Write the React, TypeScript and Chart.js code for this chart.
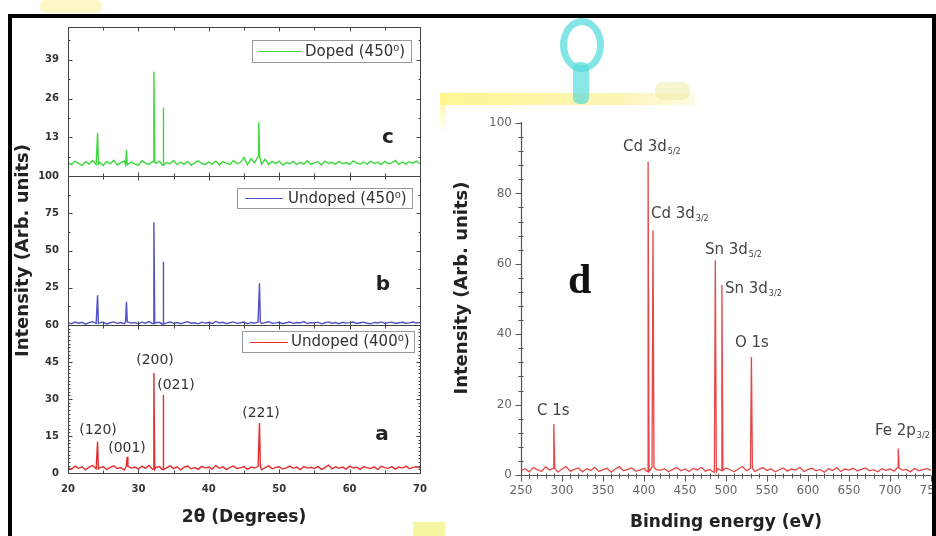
import React, { useEffect, useRef } from "react";
import { Chart, registerables } from "chart.js";
Chart.register(...registerables);

// ---------------- data ----------------
const twoThetaStart = 20;
const twoThetaStep = 0.5;

const cNoise = [4.5,3.8,5.0,4.2,3.6,4.8,4.0,5.2,3.9,4.6, 3.5,4.9,4.1,5.3,3.7,4.4,5.0,3.8,4.7,4.0, 3.6,5.1,4.3,3.9,4.8,4.2,5.0,3.7,4.5,4.1, 5.2,3.8,4.6,4.0,4.9,3.6,4.4,5.1,4.2,3.9, 4.7,4.0,5.0,3.7,4.8,4.3,3.9,5.2,4.1,4.6, 6.2,3.8,5.8,4.4,6.5,4.0,5.6,3.9,4.8,4.2, 5.0,3.7,4.5,4.1,4.9,3.8,4.6,4.0,5.1,3.9, 4.4,4.8,3.7,5.0,4.2,4.6,3.9,4.9,4.1,4.5, 3.8,5.1,4.3,4.0,4.7,3.9,5.0,4.2,4.6,3.8, 4.9,4.1,4.4,5.2,3.9,4.7,4.0,4.8,4.3,5.0, 4.2];
const bNoise = [1.5,0.8,2.0,1.2,1.8,0.6,1.6,2.2,1.0,1.4, 1.9,0.7,1.5,2.1,1.1,1.7,0.9,2.0,1.3,1.6, 0.8,1.9,1.2,2.3,1.0,1.5,1.8,0.7,1.4,2.0, 1.1,1.7,0.9,1.6,2.2,1.2,1.5,0.8,1.9,1.3, 1.7,1.0,2.4,1.4,1.8,0.9,1.6,2.1,1.1,1.5, 2.0,0.8,1.7,1.3,1.9,1.0,1.6,2.2,1.2,1.4, 1.8,0.9,1.5,2.0,1.1,1.7,1.3,2.3,1.0,1.6, 1.4,1.9,0.8,1.5,2.1,1.2,1.7,0.9,1.8,1.3, 1.6,2.0,1.0,1.5,1.9,1.2,0.8,1.7,1.4,2.1, 1.1,1.6,1.9,1.0,1.5,1.8,1.2,1.4,2.0,1.3, 1.6];
const aNoise = [2.2,1.5,2.8,1.9,2.5,1.3,2.4,3.0,1.7,2.1, 2.6,1.4,2.3,2.9,1.8,2.2,1.2,2.7,2.0,2.4, 1.6,2.8,1.9,3.1,1.5,2.3,2.6,1.4,2.1,2.9, 1.8,2.5,1.3,2.4,2.8,1.7,2.2,1.5,2.7,2.0, 2.4,1.6,3.0,1.9,2.5,1.4,2.3,2.8,1.8,2.1, 2.6,1.5,2.4,2.0,2.7,1.3,2.2,2.9,1.7,2.3, 2.5,1.6,2.1,2.8,1.9,2.4,1.4,2.6,2.0,2.3, 1.8,2.7,1.5,2.2,3.2,1.7,2.5,1.9,2.4,1.6, 2.8,2.0,2.3,1.5,2.6,2.1,1.8,2.5,1.4,2.7, 2.2,1.9,2.6,1.6,2.4,2.0,2.8,1.7,2.3,2.5, 2.1];

const cPeakPos = [24.2, 28.3, 32.2, 33.5, 47.1];
const cPeakInt = [14.4, 8.7, 35, 23, 18];
const bPeakPos = [24.2, 28.3, 32.2, 33.5, 47.2];
const bPeakInt = [20, 15.6, 69, 42.5, 28];
const aPeakPos = [24.2, 28.4, 32.2, 33.5, 47.2];
const aPeakInt = [12.7, 6.6, 40.5, 31.6, 20.3];
const aPeakLabels = ["(120)", "(001)", "(200)", "(021)", "(221)"];

const legendC = "Doped (450\u2070)";
const legendB = "Undoped (450\u2070)";
const legendA = "Undoped (400\u2070)";

const xTicksLeft = [20, 30, 40, 50, 60, 70];
const xMinorLeft = [25, 35, 45, 55, 65];
const cTicks = [13, 26, 39];
const cMinor = [6.5, 19.5, 32.5, 45.5];
const bTicks = [25, 50, 75, 100];
const bMinor = [12.5, 37.5, 62.5, 87.5];
const aTicks = [0, 15, 30, 45, 60];

const beStart = 250;
const beStep = 5;
const dNoise = [1.2,1.8,0.9,2.1,1.5,1.0,2.3,1.4,1.9,0.8, 1.7,2.4,1.1,1.6,2.0,0.9,1.8,1.3,2.2,1.0, 1.5,1.9,0.8,1.7,2.3,1.2,1.6,2.0,1.1,1.4, 1.9,1.0,2.2,1.5,1.3,1.8,0.9,1.6,2.1,1.2, 1.7,1.0,1.9,1.4,2.2,1.1,1.6,0.8,1.8,1.3, 2.0,1.5,0.9,1.7,2.4,1.2,1.9,1.0,1.6,2.1, 1.3,1.8,0.9,1.5,2.0,1.1,1.7,1.4,2.2,1.0, 1.6,1.9,1.2,1.5,0.8,1.8,1.3,2.1,1.0,1.7, 1.4,1.9,1.1,1.6,2.0,1.2,1.5,0.9,1.8,1.3, 1.7,1.1,2.0,1.4,1.6,0.9,1.9,1.2,1.5,1.8, 1.3];
const dPeakPos = [290, 405, 411, 487, 495, 531, 710];
const dPeakInt = [14.5, 89, 69.5, 61, 54, 33.5, 7.5];
const dPeakNames = ["C 1s", "Cd 3d", "Cd 3d", "Sn 3d", "Sn 3d", "O 1s", "Fe 2p"];
const dPeakSubs = ["", "5/2", "3/2", "5/2", "3/2", "", "3/2"];
const dXTicks = [250, 300, 350, 400, 450, 500, 550, 600, 650, 700, 750];
const dYTicks = [0, 20, 40, 60, 80, 100];

// ---------------- helpers ----------------
const FONT = '"DejaVu Sans", sans-serif';

function range(a: number, b: number, s: number) {
  const out: number[] = [];
  for (let v = a; v <= b + 1e-9; v += s) out.push(Math.round(v * 100) / 100);
  return out;
}
const aMinor = range(0, 60, 1.5).filter((v) => !aTicks.includes(v));
const dXMinor = range(250, 750, 10).filter((v) => v % 50 !== 0);
const dYMinor = range(0, 100, 4).filter((v) => v % 20 !== 0);

function buildSeries(start: number, step: number, noise: number[], pos: number[], h: number[], hw: number) {
  const pts = noise.map((v, i) => ({ x: start + i * step, y: v }));
  pos.forEach((p, k) => {
    const i = Math.max(0, Math.min(noise.length - 1, Math.round((p - start) / step)));
    const base = noise[i];
    pts.push({ x: p - hw, y: base }, { x: p, y: h[k] }, { x: p + hw, y: base });
  });
  pts.sort((a, b) => a.x - b.x);
  return pts;
}

function seg(ctx: CanvasRenderingContext2D, x1: number, y1: number, x2: number, y2: number) {
  ctx.beginPath();
  ctx.moveTo(x1, y1);
  ctx.lineTo(x2, y2);
  ctx.stroke();
}

function drawBox(chart: any, yMaj: number[], yMin: number[]) {
  const { ctx, chartArea: ca, scales } = chart;
  const x = scales.x, y = scales.y;
  ctx.save();
  ctx.strokeStyle = "#444";
  ctx.lineWidth = 1;
  const L = Math.round(ca.left) + 0.5, R = Math.round(ca.right) + 0.5;
  const T = Math.round(ca.top) + 0.5, B = Math.round(ca.bottom) + 0.5;
  ctx.strokeRect(L, T, R - L, B - T);
  xTicksLeft.forEach((v) => {
    const px = Math.round(x.getPixelForValue(v)) + 0.5;
    seg(ctx, px, T, px, T + 4);
    seg(ctx, px, B, px, B - 4);
  });
  xMinorLeft.forEach((v) => {
    const px = Math.round(x.getPixelForValue(v)) + 0.5;
    seg(ctx, px, T, px, T + 3);
    seg(ctx, px, B, px, B - 3);
  });
  yMaj.forEach((v) => {
    const py = Math.round(y.getPixelForValue(v)) + 0.5;
    seg(ctx, L, py, L + 4, py);
    seg(ctx, R, py, R - 4, py);
  });
  yMin.forEach((v) => {
    const py = Math.round(y.getPixelForValue(v)) + 0.5;
    seg(ctx, L, py, L + 2, py);
    seg(ctx, R, py, R - 2, py);
  });
  ctx.restore();
}

function drawLegend(ctx: CanvasRenderingContext2D, bx: number, by: number, bw: number, bh: number, l1: number, l2: number, tx: number, color: string, text: string) {
  ctx.save();
  ctx.fillStyle = "#fff";
  ctx.fillRect(bx, by, bw, bh);
  ctx.strokeStyle = "#999";
  ctx.lineWidth = 1;
  ctx.strokeRect(bx + 0.5, by + 0.5, bw, bh);
  ctx.strokeStyle = color;
  const cy = Math.round(by + bh / 2) + 0.5;
  seg(ctx, l1, cy, l2, cy);
  ctx.fillStyle = "#333";
  ctx.font = `15px ${FONT}`;
  ctx.textBaseline = "middle";
  ctx.textAlign = "left";
  ctx.fillText(text, tx, by + bh / 2 + 1);
  ctx.restore();
}

function drawText(ctx: CanvasRenderingContext2D, text: string, x: number, y: number, font: string, color: string, align: CanvasTextAlign = "center", baseline: CanvasTextBaseline = "middle") {
  ctx.save();
  ctx.font = font;
  ctx.fillStyle = color;
  ctx.textAlign = align;
  ctx.textBaseline = baseline;
  ctx.fillText(text, x, y);
  ctx.restore();
}

const tickFontLeft = { family: FONT, size: 10, weight: "bold" as const };

function leftConfig(p: any) {
  return {
    type: "line",
    data: {
      datasets: [
        { data: p.points, borderColor: p.color, borderWidth: 1.4, pointRadius: 0, tension: 0, fill: false },
      ],
    },
    options: {
      animation: false,
      responsive: false,
      devicePixelRatio: 1,
      events: [],
      layout: { padding: { top: p.padTop, bottom: p.padBottom, left: 0, right: 20 } },
      plugins: { legend: { display: false }, tooltip: { enabled: false }, title: { display: false } },
      scales: {
        x: {
          type: "linear",
          min: 20,
          max: 70,
          display: p.showX,
          afterBuildTicks: (s: any) => {
            s.ticks = xTicksLeft.map((v) => ({ value: v }));
          },
          afterFit: (s: any) => {
            s.height = p.showX ? 63 : 0;
            s.paddingLeft = 0;
            s.paddingRight = 0;
          },
          grid: { display: false, drawTicks: false },
          border: { display: false },
          ticks: { font: tickFontLeft, color: "#333", padding: 10, maxRotation: 0, autoSkip: false },
          title: {
            display: true,
            text: "2\u03b8 (Degrees)",
            font: { family: FONT, size: 17, weight: "bold" },
            color: "#222",
            padding: { top: 0, bottom: 8 },
          },
        },
        y: {
          type: "linear",
          min: p.yMin,
          max: p.yMax,
          afterBuildTicks: (s: any) => {
            s.ticks = p.yTicks.map((v: number) => ({ value: v }));
          },
          afterFit: (s: any) => {
            s.width = 68;
            s.paddingTop = 0;
            s.paddingBottom = 0;
          },
          grid: { display: false, drawTicks: false },
          border: { display: false },
          ticks: { font: tickFontLeft, color: "#333", padding: 9, autoSkip: false },
          title: {
            display: !!p.yTitle,
            text: p.yTitle || "",
            font: { family: FONT, size: 18, weight: "bold" },
            color: "#222",
            padding: { top: 13, bottom: 0 },
          },
        },
      },
    },
    plugins: [{ id: "deco", afterDraw: p.draw }],
  } as any;
}

export default function App() {
  const cRef = useRef<HTMLCanvasElement>(null);
  const bRef = useRef<HTMLCanvasElement>(null);
  const aRef = useRef<HTMLCanvasElement>(null);
  const dRef = useRef<HTMLCanvasElement>(null);

  useEffect(() => {
    const charts: Chart[] = [];
    const green = "rgb(60,215,60)";
    const blue = "rgb(80,80,200)";
    const red = "rgb(225,45,45)";
    const dRed = "rgb(230,70,70)";

    charts.push(
      new Chart(
        cRef.current!,
        leftConfig({
          points: buildSeries(twoThetaStart, twoThetaStep, cNoise, cPeakPos, cPeakInt, 0.12),
          color: green,
          yMin: 0,
          yMax: 50,
          yTicks: cTicks,
          padTop: 27,
          padBottom: 360,
          showX: false,
          draw: (chart: any) => {
            drawBox(chart, cTicks, cMinor);
            const ctx = chart.ctx;
            drawLegend(ctx, 252, 40, 159, 22, 258, 302, 305, green, legendC);
            drawText(ctx, "c", 388, 143, `bold 20px ${FONT}`, "#222", "center", "alphabetic");
          },
        })
      )
    );

    charts.push(
      new Chart(
        bRef.current!,
        leftConfig({
          points: buildSeries(twoThetaStart, twoThetaStep, bNoise, bPeakPos, bPeakInt, 0.12),
          color: blue,
          yMin: 0,
          yMax: 100,
          yTicks: bTicks,
          padTop: 176,
          padBottom: 211,
          showX: false,
          yTitle: "Intensity (Arb. units)",
          draw: (chart: any) => {
            drawBox(chart, bTicks, bMinor);
            const ctx = chart.ctx;
            drawLegend(ctx, 237, 188, 175, 20, 245, 283, 288, blue, legendB);
            drawText(ctx, "b", 383, 290, `bold 20px ${FONT}`, "#222", "center", "alphabetic");
          },
        })
      )
    );

    const aLabelPos = [
      [98, 430],
      [127, 448],
      [155, 360],
      [176, 385],
      [261, 413],
    ];
    charts.push(
      new Chart(
        aRef.current!,
        leftConfig({
          points: buildSeries(twoThetaStart, twoThetaStep, aNoise, aPeakPos, aPeakInt, 0.12),
          color: red,
          yMin: 0,
          yMax: 60,
          yTicks: aTicks,
          padTop: 325,
          padBottom: 0,
          showX: true,
          draw: (chart: any) => {
            drawBox(chart, aTicks, aMinor);
            const ctx = chart.ctx;
            drawLegend(ctx, 242, 331, 172, 21, 250, 288, 291, red, legendA);
            drawText(ctx, "a", 382, 440, `bold 20px ${FONT}`, "#222", "center", "alphabetic");
            aPeakLabels.forEach((t, i) => {
              drawText(ctx, t, aLabelPos[i][0], aLabelPos[i][1], `14px ${FONT}`, "#333");
            });
          },
        })
      )
    );

    // d panel (canvas offset 440)
    const OX = 440;
    const dLabelPos = [
      [537, 411],
      [623, 147],
      [651, 214],
      [705, 250],
      [725, 289],
      [735, 343],
      [875, 431],
    ];
    charts.push(
      new Chart(dRef.current!, {
        type: "line",
        data: {
          datasets: [
            {
              data: buildSeries(beStart, beStep, dNoise, dPeakPos, dPeakInt, 1.2),
              borderColor: dRed,
              borderWidth: 1.3,
              pointRadius: 0,
              tension: 0,
              fill: false,
            },
          ],
        },
        options: {
          animation: false,
          responsive: false,
          devicePixelRatio: 1,
          events: [],
          layout: { padding: { top: 123, bottom: 0, left: 0, right: 5 } },
          plugins: { legend: { display: false }, tooltip: { enabled: false }, title: { display: false } },
          scales: {
            x: {
              type: "linear",
              min: 250,
              max: 750,
              afterBuildTicks: (s: any) => {
                s.ticks = dXTicks.map((v) => ({ value: v }));
              },
              afterFit: (s: any) => {
                s.height = 61;
                s.paddingLeft = 0;
                s.paddingRight = 0;
              },
              grid: { display: false, drawTicks: false },
              border: { display: false },
              ticks: { font: { family: FONT, size: 12 }, color: "#666", padding: 9, maxRotation: 0, autoSkip: false },
              title: {
                display: true,
                text: "Binding energy (eV)",
                font: { family: FONT, size: 17, weight: "bold" },
                color: "#222",
                padding: { top: 0, bottom: 3 },
              },
            },
            y: {
              type: "linear",
              min: 0,
              max: 100,
              afterBuildTicks: (s: any) => {
                s.ticks = dYTicks.map((v) => ({ value: v }));
              },
              afterFit: (s: any) => {
                s.width = 81;
                s.paddingTop = 0;
                s.paddingBottom = 0;
              },
              grid: { display: false, drawTicks: false },
              border: { display: false },
              ticks: { font: { family: FONT, size: 12 }, color: "#666", padding: 9, autoSkip: false },
            },
          },
        },
        plugins: [
          {
            id: "decoD",
            afterDraw: (chart: any) => {
              const { ctx, chartArea: ca, scales } = chart;
              const x = scales.x, y = scales.y;
              ctx.save();
              ctx.strokeStyle = "#555";
              ctx.lineWidth = 1.2;
              const L = Math.round(ca.left) + 0.5;
              const B = Math.round(ca.bottom) + 0.5;
              seg(ctx, L, ca.top - 1, L, B);
              seg(ctx, L, B, ca.right, B);
              ctx.lineWidth = 1;
              dYTicks.forEach((v) => {
                const py = Math.round(y.getPixelForValue(v)) + 0.5;
                seg(ctx, L - 6, py, L, py);
              });
              dYMinor.forEach((v) => {
                const py = Math.round(y.getPixelForValue(v)) + 0.5;
                seg(ctx, L - 3, py, L + 2, py);
              });
              dXTicks.forEach((v) => {
                const px = Math.round(x.getPixelForValue(v)) + 0.5;
                seg(ctx, px, B, px, B + 6);
              });
              dXMinor.forEach((v) => {
                const px = Math.round(x.getPixelForValue(v)) + 0.5;
                seg(ctx, px, B - 2, px, B + 3);
              });
              ctx.restore();

              // y title
              ctx.save();
              ctx.translate(462 - OX, 288);
              ctx.rotate(-Math.PI / 2);
              ctx.font = `bold 18px ${FONT}`;
              ctx.fillStyle = "#222";
              ctx.textAlign = "center";
              ctx.textBaseline = "middle";
              ctx.fillText("Intensity (Arb. units)", 0, 0);
              ctx.restore();

              // peak labels
              dPeakNames.forEach((name, i) => {
                const [lx, ly] = dLabelPos[i];
                ctx.save();
                ctx.font = `15px ${FONT}`;
                ctx.fillStyle = "#444";
                ctx.textAlign = "left";
                ctx.textBaseline = "middle";
                ctx.fillText(name, lx - OX, ly);
                const w = ctx.measureText(name).width;
                if (dPeakSubs[i]) {
                  ctx.font = `8px ${FONT}`;
                  ctx.fillText(dPeakSubs[i], lx - OX + w + 1, ly + 5);
                }
                ctx.restore();
              });

              // panel letter
              drawText(ctx, "d", 568 - OX, 293, `bold 42px "Liberation Serif", serif`, "#111", "left", "alphabetic");
            },
          },
        ],
      } as any)
    );

    return () => charts.forEach((c) => c.destroy());
  }, []);

  const abs = (s: React.CSSProperties): React.CSSProperties => ({ position: "absolute", ...s });

  return (
    <div style={abs({ left: 0, top: 0, width: 936, height: 536, overflow: "hidden", background: "#fff" })}>
      {/* background smudges of the source picture */}
      <div style={abs({ left: 40, top: 0, width: 62, height: 13, background: "rgba(250,240,150,0.55)", borderRadius: 6 })} />
      <div style={abs({ left: 440, top: 93, width: 255, height: 12, background: "linear-gradient(to right, rgba(255,245,140,0.95), rgba(250,240,150,0.7) 70%, rgba(250,240,170,0.3))" })} />
      <div style={abs({ left: 440, top: 93, width: 6, height: 40, background: "linear-gradient(to bottom, rgba(255,245,140,0.95), rgba(255,250,180,0))" })} />
      <div style={abs({ left: 560, top: 18, width: 30, height: 40, border: "7px solid rgba(90,220,220,0.75)", borderRadius: "50%" })} />
      <div style={abs({ left: 573, top: 62, width: 16, height: 42, background: "rgba(90,220,220,0.7)", borderRadius: 6 })} />
      <div style={abs({ left: 655, top: 82, width: 35, height: 18, background: "rgba(235,235,160,0.5)", borderRadius: 8 })} />
      <div style={abs({ left: 413, top: 522, width: 32, height: 14, background: "rgba(240,245,110,0.65)" })} />

      <canvas ref={cRef} width={440} height={536} style={abs({ left: 0, top: 0 })} />
      <canvas ref={bRef} width={440} height={536} style={abs({ left: 0, top: 0 })} />
      <canvas ref={aRef} width={440} height={536} style={abs({ left: 0, top: 0 })} />
      <canvas ref={dRef} width={496} height={536} style={abs({ left: 440, top: 0 })} />

      <div
        style={abs({
          left: 8,
          top: 14,
          width: 928,
          height: 522,
          borderTop: "4px solid #000",
          borderLeft: "4px solid #000",
          borderRight: "4px solid #000",
          boxSizing: "border-box",
          pointerEvents: "none",
        })}
      />
    </div>
  );
}
